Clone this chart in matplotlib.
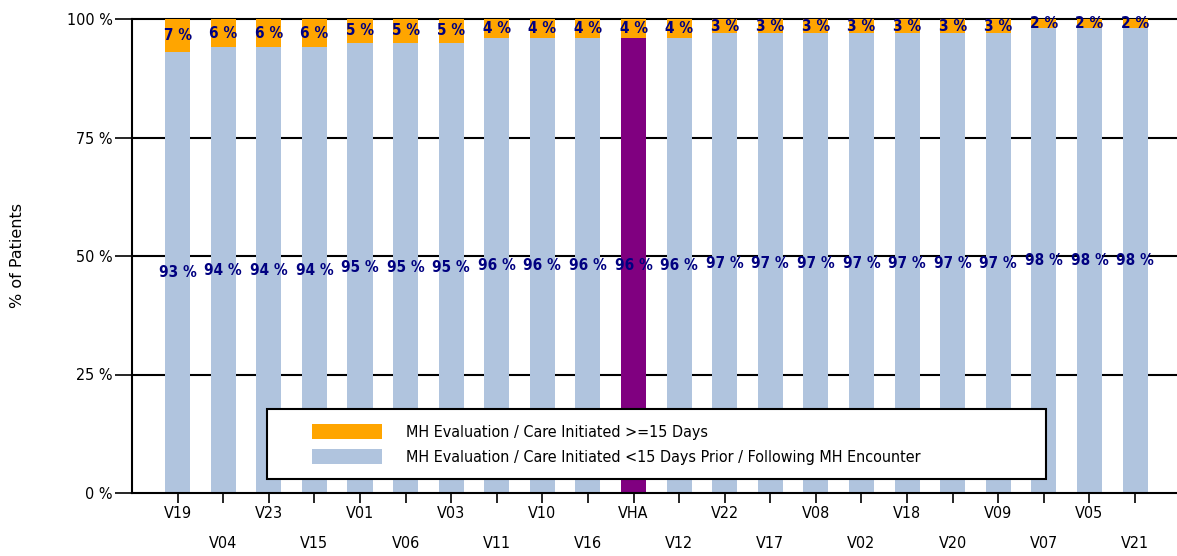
import numpy as np
import matplotlib.pyplot as plt
from matplotlib.patches import Patch, Rectangle
from matplotlib.legend_handler import HandlerPatch

# stations in display order
stations = ["V19", "V04", "V23", "V15", "V01", "V06", "V03", "V11", "V10", "V16", "VHA",
            "V12", "V22", "V17", "V08", "V02", "V18", "V20", "V09", "V07", "V05", "V21"]
# % initiated <15 days prior / following
within_15 = [93, 94, 94, 94, 95, 95, 95, 96, 96, 96, 96,
             96, 97, 97, 97, 97, 97, 97, 97, 98, 98, 98]
# % initiated >=15 days
over_15 = [7, 6, 6, 6, 5, 5, 5, 4, 4, 4, 4,
           4, 3, 3, 3, 3, 3, 3, 3, 2, 2, 2]
y_ticks = [0, 25, 50, 75, 100]

BLUE = "#b0c4de"
ORANGE = "#ffa500"
PURPLE = "#800080"
NAVY = "#000080"
narrow = dict(family="DejaVu Sans", stretch="condensed")


def right_patch(legend, orig_handle, xdescent, ydescent, width, height, fontsize):
    # swatch sits in the right part of the handle box, leaving blank room on the left
    w = width * 0.70
    return Rectangle((width - w - xdescent, -ydescent), w, height)


fig = plt.figure(figsize=(11.77, 5.56), dpi=100)
ax = fig.add_axes([132 / 1177, 1 - 493 / 556, 1 - 132 / 1177, (493 - 19) / 556])

x = np.arange(len(stations))
low_colors = [PURPLE if s == "VHA" else BLUE for s in stations]

b1 = ax.bar(x, within_15, width=0.55, color=low_colors, zorder=2)
b2 = ax.bar(x, over_15, bottom=within_15, width=0.55, color=ORANGE, zorder=2)

for bars in (b1, b2):
    ax.bar_label(bars, fmt="{:.0f} %", label_type="center", color=NAVY,
                 fontsize=11, fontweight="bold", zorder=3, **narrow)

# horizontal rules
for yv in y_ticks[1:]:
    ax.axhline(yv, color="black", lw=1.5, zorder=1, clip_on=False)

ax.set_xlim(-1, 21.92)
ax.set_ylim(0, 100)
ax.set_yticks(y_ticks)
ax.set_yticklabels([f"{v} %" for v in y_ticks], fontsize=11.5, **narrow)
ax.set_xticks(x)
ax.set_xticklabels([s if i % 2 == 0 else "\n" + s for i, s in enumerate(stations)],
                   fontsize=11.5, va="top", linespacing=2.3, **narrow)

for side in ("top", "right"):
    ax.spines[side].set_visible(False)
ax.spines["left"].set_linewidth(1.5)
ax.spines["bottom"].set_linewidth(1.5)
ax.tick_params(axis="y", length=12, width=1.2, pad=2)
ax.tick_params(axis="x", length=7, width=1.2, pad=2)

fig.text(18 / 1177, 1 - 255 / 556, "% of Patients", rotation=90, ha="center", va="center",
         fontsize=11.5, family="DejaVu Sans")

handles = [Patch(facecolor=ORANGE, edgecolor="none"), Patch(facecolor=BLUE, edgecolor="none")]
labels = ["MH Evaluation / Care Initiated >=15 Days",
          "MH Evaluation / Care Initiated <15 Days Prior / Following MH Encounter"]
leg = ax.legend(handles, labels, loc="lower left",
                bbox_to_anchor=(267 / 1177, 1 - 479 / 556, (1046 - 267) / 1177, (479 - 408) / 556),
                bbox_transform=fig.transFigure, mode="expand", fancybox=False, framealpha=1,
                edgecolor="black", borderpad=0.9, handlelength=6.3, handleheight=1.1,
                handletextpad=1.5, borderaxespad=0, labelspacing=0.55,
                handler_map={Patch: HandlerPatch(patch_func=right_patch)},
                prop={"family": "DejaVu Sans", "stretch": "condensed", "size": 11.5})
leg.get_frame().set_linewidth(1.5)
leg.set_zorder(5)

fig.savefig("out.png", dpi=100)
